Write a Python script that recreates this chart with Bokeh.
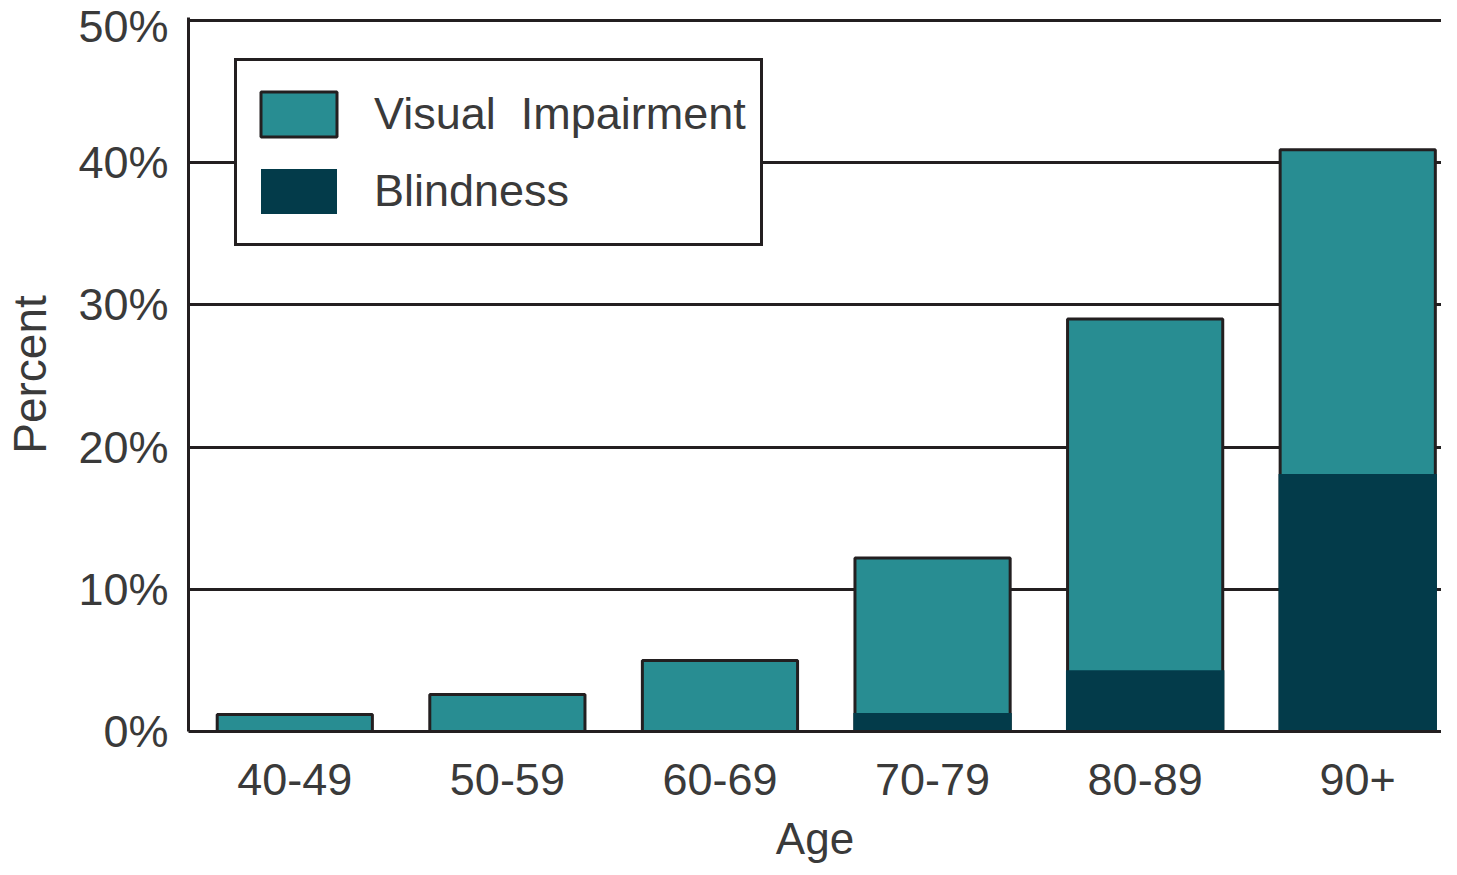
from bokeh.plotting import figure
from bokeh.models import Range1d, FixedTicker, Legend, LegendItem, ColumnDataSource
from bokeh.embed import file_html
from bokeh.resources import INLINE

# ---- data ----
age_groups = ["40-49", "50-59", "60-69", "70-79", "80-89", "90+"]
visual_impairment = [1.2, 2.6, 5.0, 12.2, 29.0, 40.9]   # total % with visual impairment
blindness = [0.0, 0.0, 0.0, 1.3, 4.3, 18.1]             # % blind
y_ticks = [0, 10, 20, 30, 40, 50]
y_tick_labels = ["0%", "10%", "20%", "30%", "40%", "50%"]

VI_COLOR = "#288d92"
BLIND_COLOR = "#033b4a"
INK = "#231f20"
TEXT = "#3a3a3a"
FONT = "Liberation Sans"

xpos = [i + 0.5 for i in range(len(age_groups))]
src = ColumnDataSource(dict(x=xpos, vi=visual_impairment, bl=blindness, cat=age_groups))

p = figure(width=1441, height=867, output_backend="svg", toolbar_location=None,
           x_range=Range1d(0, 5.894), y_range=Range1d(0, 50.2),
           min_border_left=188, min_border_top=17, min_border_right=0, min_border_bottom=136)
p.outline_line_color = None
p.background_fill_color = "white"
p.border_fill_color = "white"

vi = p.vbar(x="x", top="vi", bottom=0, width=0.73, source=src,
            fill_color=VI_COLOR, line_color=INK, line_width=3)
bl = p.vbar(x="x", top="bl", bottom=0, width=0.745, source=src,
            fill_color=BLIND_COLOR, line_color=None)

# axes
p.xaxis.ticker = FixedTicker(ticks=xpos)
p.xaxis.major_label_overrides = {x: c for x, c in zip(xpos, age_groups)}
p.yaxis.ticker = FixedTicker(ticks=y_ticks)
p.yaxis.major_label_overrides = {t: l for t, l in zip(y_ticks, y_tick_labels)}

for ax in (p.xaxis, p.yaxis):
    ax.axis_line_width = 3
    ax.axis_line_color = INK
    ax.major_tick_line_color = None
    ax.minor_tick_line_color = None
    ax.major_label_text_font = FONT
    ax.major_label_text_font_size = "45px"
    ax.major_label_text_color = TEXT
    ax.axis_label_text_font = FONT
    ax.axis_label_text_font_style = "normal"
    ax.axis_label_text_color = TEXT

p.xaxis.axis_label = "Age"
p.xaxis.axis_label_text_font_size = "44px"
p.xaxis.major_label_standoff = 26
p.xaxis.axis_label_standoff = 16

p.yaxis.axis_label = "Percent"
p.yaxis.axis_label_text_font_size = "46px"
p.yaxis.major_label_standoff = 14
p.yaxis.axis_label_standoff = 19

p.xgrid.grid_line_color = None
p.ygrid.ticker = FixedTicker(ticks=y_ticks)
p.ygrid.grid_line_color = INK
p.ygrid.grid_line_width = 3

legend = Legend(items=[LegendItem(label="Visual  Impairment", renderers=[vi]),
                       LegendItem(label="Blindness", renderers=[bl])],
                location=(46, 485))
legend.label_text_font = FONT
legend.label_text_font_size = "45px"
legend.label_text_color = TEXT
legend.glyph_width = 95
legend.glyph_height = 56
legend.label_height = 77
legend.label_standoff = 28
legend.spacing = 0
legend.padding = 14
legend.margin = 0
legend.border_line_color = INK
legend.border_line_alpha = 1.0
legend.border_line_width = 3
legend.background_fill_color = "white"
legend.background_fill_alpha = 1.0
p.add_layout(legend, "center")

open("out.html", "w").write(file_html(p, INLINE))
